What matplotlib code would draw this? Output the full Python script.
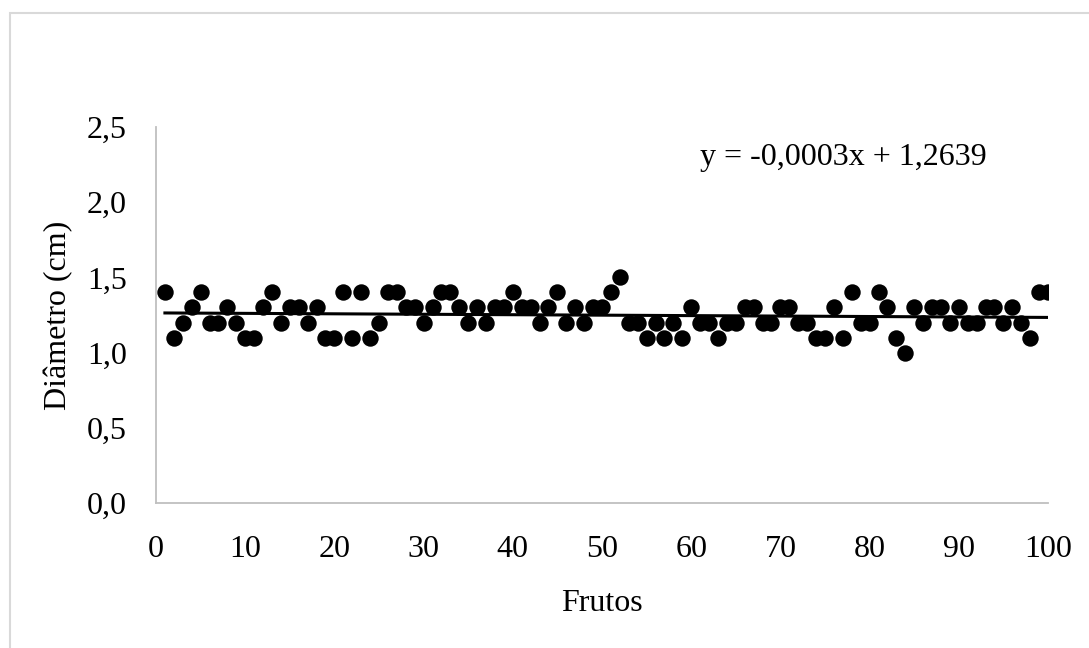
import matplotlib
matplotlib.use("Agg")
import matplotlib.pyplot as plt
import numpy as np
from matplotlib.patches import Rectangle

frutos = list(range(1, 101))
diametro = [
    1.4, 1.1, 1.2, 1.3, 1.4, 1.2, 1.2, 1.3, 1.2, 1.1,
    1.1, 1.3, 1.4, 1.2, 1.3, 1.3, 1.2, 1.3, 1.1, 1.1,
    1.4, 1.1, 1.4, 1.1, 1.2, 1.4, 1.4, 1.3, 1.3, 1.2,
    1.3, 1.4, 1.4, 1.3, 1.2, 1.3, 1.2, 1.3, 1.3, 1.4,
    1.3, 1.3, 1.2, 1.3, 1.4, 1.2, 1.3, 1.2, 1.3, 1.3,
    1.4, 1.5, 1.2, 1.2, 1.1, 1.2, 1.1, 1.2, 1.1, 1.3,
    1.2, 1.2, 1.1, 1.2, 1.2, 1.3, 1.3, 1.2, 1.2, 1.3,
    1.3, 1.2, 1.2, 1.1, 1.1, 1.3, 1.1, 1.4, 1.2, 1.2,
    1.4, 1.3, 1.1, 1.0, 1.3, 1.2, 1.3, 1.3, 1.2, 1.3,
    1.2, 1.2, 1.3, 1.3, 1.2, 1.3, 1.2, 1.1, 1.4, 1.4,
]
slope = -0.0003
intercept = 1.2639
equation = "y = -0,0003x + 1,2639"
x_ticks = [0, 10, 20, 30, 40, 50, 60, 70, 80, 90, 100]
y_ticks = [0.0, 0.5, 1.0, 1.5, 2.0, 2.5]
y_ticklabels = ["0,0", "0,5", "1,0", "1,5", "2,0", "2,5"]

plt.rcParams['font.family'] = ['Liberation Serif', 'DejaVu Serif']

W, H = 1089, 648
fig = plt.figure(figsize=(W / 100, H / 100), dpi=100)
fig.patches.append(Rectangle((10 / W, -0.05), 1.2, 1 - 13 / H + 0.05,
                             transform=fig.transFigure, fill=False,
                             edgecolor='#d9d9d9', linewidth=1.5, zorder=0))

ax = fig.add_axes([156 / W, 1 - 503 / H, (1048 - 156) / W, (503 - 127) / H])
ax.scatter(frutos, diametro, s=140, color='black', zorder=3, linewidths=0)
xs = np.array([frutos[0], frutos[-1]])
ax.plot(xs, slope * xs + intercept, color='black', linewidth=2.2, zorder=2)

ax.set_xlim(0, 100)
ax.set_ylim(0, 2.5)
ax.set_xticks(x_ticks)
ax.set_xticklabels([str(t) for t in x_ticks])
ax.set_yticks(y_ticks)
ax.set_yticklabels(y_ticklabels)
ax.tick_params(axis='both', length=0, labelsize=23, colors='black')
ax.tick_params(axis='x', pad=23)
ax.tick_params(axis='y', pad=21)

for s in ['top', 'right']:
    ax.spines[s].set_visible(False)
for s in ['left', 'bottom']:
    ax.spines[s].set_color('#bfbfbf')
    ax.spines[s].set_linewidth(1.3)

ax.set_xlabel("Frutos", fontsize=23, labelpad=18)
ax.set_ylabel("Diâmetro (cm)", fontsize=23, labelpad=10)

fig.text(700 / W, 1 - 157 / H, equation, fontsize=23, va='center', ha='left')

fig.savefig("out.png", dpi=100)
